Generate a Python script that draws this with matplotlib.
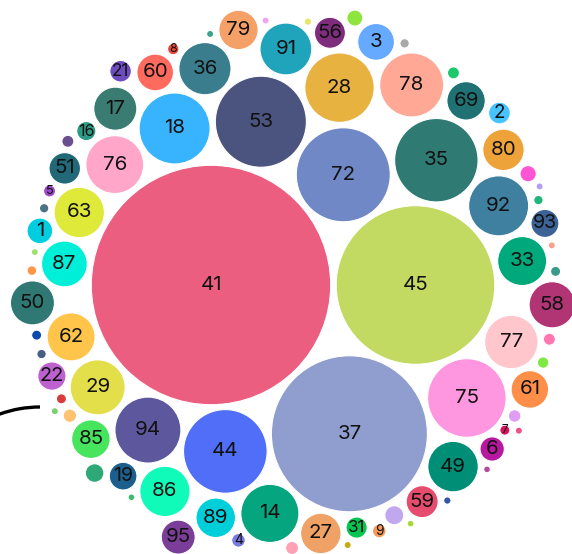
import math
import matplotlib
matplotlib.use("Agg")
import matplotlib.pyplot as plt
from matplotlib.patches import Circle, Arc

# bubble names, sizes and fill colours (sizes are areas, radius ~ sqrt(size))
labels = ["41", "45", "37", "72", "53", "44", "35", "75", "18", "28",
          "94", "78", "92", "14", "76", "29", "77", "36", "91", "49",
          "63", "86", "33", "62", "58", "87", "50", "17", "80", "27",
          "89", "79", "85", "69", "61", "3", "60", "95", "59", "51",
          "56", "22", "93", "19", "1", "6", "2", "21", "31", "16",
          "", "", "", "", "4", "9", "", "", "", "",
          "", "", "5", "8", "", "", "7", "", "", "",
          "", "", "", "", "", "", "", "", "", "",
          "", "", "", "", "", "", ""]
values = [3582, 1572, 1521, 552, 518, 437, 435, 386, 315, 301,
          272, 256, 225, 211, 209, 189, 178, 170, 168, 159,
          158.5, 158, 150, 144, 133, 131, 121, 116, 107, 102,
          97.5, 96.5, 93, 92, 88, 84.5, 84, 72, 64, 62,
          60, 50, 49, 48, 41, 37, 29.5, 29, 28, 23,
          22.6, 21.6, 16.5, 16, 11.6, 11.5, 11.2, 10.6, 9.9, 9,
          9, 9, 9, 8.1, 8.1, 6.3, 6.3, 6.3, 6.3, 5.8,
          5.5, 5.5, 5.5, 5.5, 3.4, 3.4, 3.1, 3.1, 2.8, 3.1,
          3.1, 2.8, 2.8, 3.1, 3.1, 3.1, 3.1]
colors = ["#EC5E80", "#C2D962", "#909ECF", "#7088C5", "#4B537F", "#506EF7", "#307A74", "#FF96E0", "#38B4FF", "#E8B241",
          "#5D589E", "#FFA896", "#3F7FA0", "#05A57F", "#FFA6C9", "#E3DF4A", "#FFC6CC", "#3A7E8E", "#20A4BC", "#008F76",
          "#DFE93A", "#10FAB9", "#00A97B", "#FFC54A", "#B13574", "#00EFD8", "#2F7874", "#3A7C72", "#EEA33A", "#F0A166",
          "#00CFDA", "#F5A066", "#47E45E", "#207173", "#FF8F48", "#66AAFF", "#FF6A5E", "#7A3E98", "#E64C6E", "#216878",
          "#7E2D7C", "#BE61D0", "#3D6296", "#1C5F8F", "#00CDE0", "#B8189F", "#45C4FF", "#6D4DBE", "#06C552", "#2D9A86",
          "#C1A8EE", "#2FA878", "#FF55D4", "#8EE53D", "#7A7BE0", "#F59A5C", "#FFC270", "#FFA0B4", "#DD9EF3", "#6B4E90",
          "#FF76B0", "#1DC86A", "#9B4BC8", "#E8483E", "#7FE843", "#D63C3C", "#D8125C", "#0C4AB0", "#3A9A8A", "#FF9447",
          "#20B57A", "#465F82", "#A9A9A9", "#4B7285", "#E4E86A", "#3656A8", "#A0E070", "#F9A08C", "#3ABB6A", "#3AA58A",
          "#F0508A", "#A8D834", "#B44AA0", "#F2A3F2", "#7ACF6A", "#C8AA10", "#B4A0EA"]

W, H = 572, 554
K = 2.0          # px per sqrt(size)
PAD = 2.75       # half the gap between bubbles
ANCHOR = (211, 285)   # where the biggest bubble ends up


def place(b, a, c):
    # d3-hierarchy: put c tangent to a and b
    dx = b[0] - a[0]
    dy = b[1] - a[1]
    d2 = dx * dx + dy * dy
    if d2:
        a2 = (a[2] + c[2]) ** 2
        b2 = (b[2] + c[2]) ** 2
        if a2 > b2:
            x = (d2 + b2 - a2) / (2 * d2)
            y = math.sqrt(max(0, b2 / d2 - x * x))
            c[0] = b[0] - x * dx - y * dy
            c[1] = b[1] - x * dy + y * dx
        else:
            x = (d2 + a2 - b2) / (2 * d2)
            y = math.sqrt(max(0, a2 / d2 - x * x))
            c[0] = a[0] + x * dx - y * dy
            c[1] = a[1] + x * dy + y * dx
    else:
        c[0] = a[0] + c[2]
        c[1] = a[1]


def intersects(a, b):
    dr = a[2] + b[2] - 1e-6
    dx = b[0] - a[0]
    dy = b[1] - a[1]
    return dr > 0 and dr * dr > dx * dx + dy * dy


def pack_siblings(circ):
    # front-chain packing, same steps as d3.packSiblings
    n = len(circ)
    circ[0][0], circ[0][1] = 0, 0
    if n < 2:
        return
    circ[0][0] = -circ[1][2]
    circ[1][0], circ[1][1] = circ[0][2], 0
    if n < 3:
        return
    place(circ[1], circ[0], circ[2])
    nxt = [None] * n
    prv = [None] * n
    a, b, c = 0, 1, 2
    nxt[a] = b; prv[c] = b
    nxt[b] = c; prv[a] = c
    nxt[c] = a; prv[b] = a

    def score(i):
        p, q = circ[i], circ[nxt[i]]
        ab = p[2] + q[2]
        dx = (p[0] * q[2] + q[0] * p[2]) / ab
        dy = (p[1] * q[2] + q[1] * p[2]) / ab
        return dx * dx + dy * dy

    i = 3
    while i < n:
        place(circ[a], circ[b], circ[i])
        c = i
        j, k = nxt[b], prv[a]
        sj, sk = circ[b][2], circ[a][2]
        retry = False
        while True:
            if sj <= sk:
                if intersects(circ[j], circ[c]):
                    b = j; nxt[a] = b; prv[b] = a
                    retry = True
                    break
                sj += circ[j][2]; j = nxt[j]
            else:
                if intersects(circ[k], circ[c]):
                    a = k; nxt[a] = b; prv[b] = a
                    retry = True
                    break
                sk += circ[k][2]; k = prv[k]
            if j == nxt[k]:
                break
        if retry:
            continue
        prv[c] = a; nxt[c] = b
        nxt[a] = c; prv[b] = c
        b = c
        aa = score(a)
        c = nxt[c]
        while c != b:
            ca = score(c)
            if ca < aa:
                a, aa = c, ca
            c = nxt[c]
        b = nxt[a]
        i += 1


order = sorted(range(len(values)), key=lambda i: -values[i])
circles = [[0.0, 0.0, K * math.sqrt(values[i]) + PAD] for i in order]
pack_siblings(circles)
ox = ANCHOR[0] - circles[0][0]
oy = ANCHOR[1] - circles[0][1]

plt.rcParams['font.family'] = ['Inter', 'DejaVu Sans']
fig = plt.figure(figsize=(W / 100, H / 100), dpi=100)
ax = fig.add_axes([0, 0, 1, 1])
ax.set_xlim(0, W)
ax.set_ylim(H, 0)
ax.set_aspect('equal')
ax.axis('off')

for idx, (x, y, r) in zip(order, circles):
    r = r - PAD
    cx, cy = x + ox, y + oy
    ax.add_patch(Circle((cx, cy), r, facecolor=colors[idx], edgecolor='white', lw=0.8))
    if labels[idx]:
        # digit height in px, single digits get a little more room
        if len(labels[idx]) == 1:
            cap = min(15, 0.9 * r + 4)
        else:
            cap = min(15, 0.6 * r + 6)
        fs = cap / 0.73 * 0.72
        ax.text(cx, cy, labels[idx], ha='center', va='center', fontsize=fs, color='#111111')

# stray black stroke on the left edge
ax.add_patch(Arc((40, 525), 236, 236, theta1=250, theta2=270, color='black', lw=2.4))

fig.savefig("out.png", dpi=100)
